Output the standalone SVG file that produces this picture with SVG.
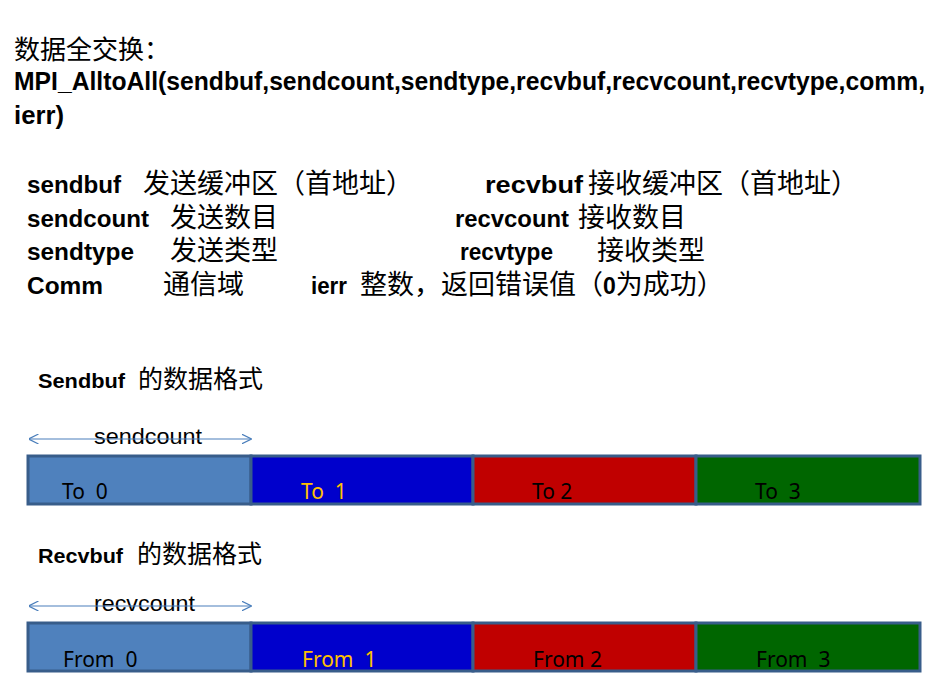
<svg xmlns="http://www.w3.org/2000/svg" width="940" height="679" viewBox="0 0 940 679">
  <style>
    .cn { font-family: "Noto Sans CJK SC", "Liberation Sans", sans-serif; fill: #000; }
    .bold { font-family: "Liberation Sans", "Noto Sans CJK SC", sans-serif; font-weight: bold; fill: #000; }
    .reg { font-family: "Liberation Sans", sans-serif; fill: #000; }
    .lbl { font-family: "Noto Sans", "Liberation Sans", sans-serif; font-size: 21px; fill: #000; }
    .lbl.hi { fill: #ffc000; }
    .cell { stroke: #385d8a; stroke-width: 3; }
    .dim { stroke: #4a7ebb; stroke-width: 1.2; fill: none; }
  </style>
  <defs>
    <marker id="open" viewBox="0 0 10 10" refX="9.5" refY="5" markerWidth="10" markerHeight="10" markerUnits="userSpaceOnUse" orient="auto-start-reverse">
      <path d="M0,0 L10,5 L0,10" fill="none" stroke="#4a7ebb" stroke-width="1.2"/>
    </marker>
  </defs>
  <rect width="940" height="679" fill="#fff"/>

  <!-- heading and call signature -->
  <g id="heading">
    <text class="cn" x="14" y="59" font-size="26">数据全交换：</text>
    <text class="bold" x="14" y="90" font-size="25" textLength="911" lengthAdjust="spacingAndGlyphs">MPI_AlltoAll(sendbuf,sendcount,sendtype,recvbuf,recvcount,recvtype,comm,</text>
    <text class="bold" x="14" y="124" font-size="25" textLength="50" lengthAdjust="spacingAndGlyphs">ierr)</text>
  </g>

  <!-- parameter descriptions -->
  <g id="params">
    <text class="bold" x="27" y="193" font-size="23" textLength="94" lengthAdjust="spacingAndGlyphs">sendbuf</text>
    <text class="cn" x="143" y="193" font-size="27">发送缓冲区（首地址）</text>
    <text class="bold" x="485" y="193" font-size="23" textLength="98" lengthAdjust="spacingAndGlyphs">recvbuf</text>
    <text class="cn" x="588" y="193" font-size="27">接收缓冲区（首地址）</text>

    <text class="bold" x="27" y="227" font-size="23" textLength="122" lengthAdjust="spacingAndGlyphs">sendcount</text>
    <text class="cn" x="170" y="227" font-size="27">发送数目</text>
    <text class="bold" x="455" y="227" font-size="23" textLength="114" lengthAdjust="spacingAndGlyphs">recvcount</text>
    <text class="cn" x="578" y="227" font-size="27">接收数目</text>

    <text class="bold" x="27" y="260" font-size="23" textLength="107" lengthAdjust="spacingAndGlyphs">sendtype</text>
    <text class="cn" x="170" y="260" font-size="27">发送类型</text>
    <text class="bold" x="460" y="260" font-size="23" textLength="93" lengthAdjust="spacingAndGlyphs">recvtype</text>
    <text class="cn" x="597" y="260" font-size="27">接收类型</text>

    <text class="bold" x="27" y="294" font-size="23" textLength="76" lengthAdjust="spacingAndGlyphs">Comm</text>
    <text class="cn" x="163" y="294" font-size="27">通信域</text>
    <text class="bold" x="311" y="294" font-size="23" textLength="36" lengthAdjust="spacingAndGlyphs">ierr</text>
    <text class="cn" x="360" y="294" font-size="27">整数，返回错误值（<tspan class="bold" font-size="23">0</tspan>为成功）</text>
  </g>

  <!-- send buffer layout -->
  <g id="sendbuf-title">
    <text class="bold" x="38" y="388" font-size="21" textLength="87" lengthAdjust="spacingAndGlyphs">Sendbuf</text>
    <text class="cn" x="138" y="388" font-size="25">的数据格式</text>
  </g>
  <g id="sendbuf-cells">
    <rect class="cell" x="28" y="456" width="223" height="48" fill="#4f81bd"/>
    <rect class="cell" x="251" y="456" width="222" height="48" fill="#0000cc"/>
    <rect class="cell" x="473" y="456" width="223" height="48" fill="#c00000"/>
    <rect class="cell" x="696" y="456" width="224" height="48" fill="#006600"/>
    <text class="lbl" x="62" y="499" xml:space="preserve">To  0</text>
    <text class="lbl hi" x="301" y="499" xml:space="preserve">To  1</text>
    <text class="lbl" x="532" y="499">To 2</text>
    <text class="lbl" x="755" y="499" xml:space="preserve">To  3</text>
  </g>

  <!-- receive buffer layout -->
  <g id="recvbuf-title">
    <text class="bold" x="38" y="563" font-size="21" textLength="85" lengthAdjust="spacingAndGlyphs">Recvbuf</text>
    <text class="cn" x="137" y="563" font-size="25">的数据格式</text>
  </g>
  <g id="recvbuf-cells">
    <rect class="cell" x="28" y="623" width="223" height="48" fill="#4f81bd"/>
    <rect class="cell" x="251" y="623" width="222" height="48" fill="#0000cc"/>
    <rect class="cell" x="473" y="623" width="223" height="48" fill="#c00000"/>
    <rect class="cell" x="696" y="623" width="224" height="48" fill="#006600"/>
    <text class="lbl" x="63" y="667" xml:space="preserve">From  0</text>
    <text class="lbl hi" x="302" y="667" xml:space="preserve">From  1</text>
    <text class="lbl" x="533" y="667">From 2</text>
    <text class="lbl" x="756" y="667" xml:space="preserve">From  3</text>
  </g>

  <!-- count dimension arrows -->
  <g id="connectors">
    <text class="reg" x="94" y="444" font-size="22" textLength="108" lengthAdjust="spacingAndGlyphs">sendcount</text>
    <line class="dim" x1="29" y1="439" x2="251" y2="439" marker-start="url(#open)" marker-end="url(#open)"/>
    <text class="reg" x="94" y="611" font-size="22" textLength="101" lengthAdjust="spacingAndGlyphs">recvcount</text>
    <line class="dim" x1="29" y1="606" x2="251" y2="606" marker-start="url(#open)" marker-end="url(#open)"/>
  </g>
</svg>
